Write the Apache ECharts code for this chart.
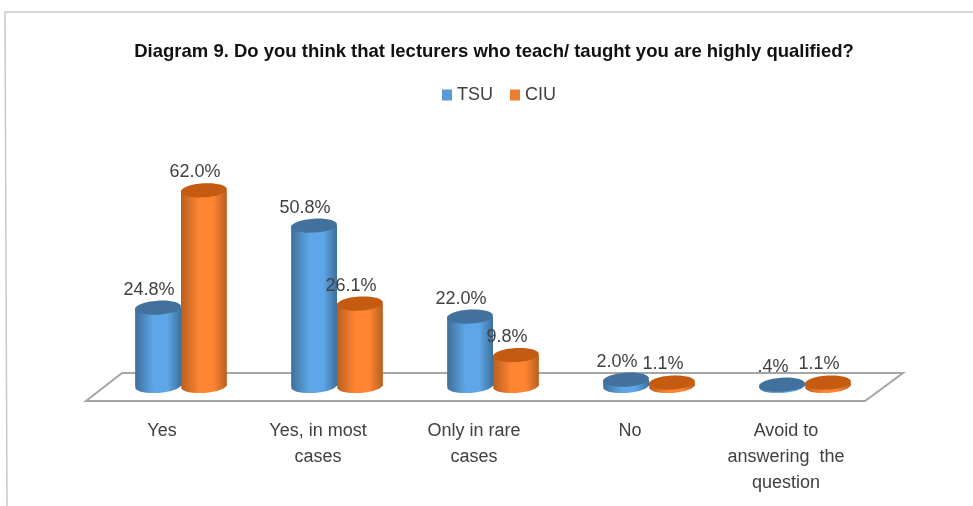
<!DOCTYPE html>
<html>
<head>
<meta charset="utf-8">
<script src="https://cdn.jsdelivr.net/npm/echarts@6/dist/echarts.min.js"></script>
<style>
html,body{margin:0;padding:0;background:#fff;}
#main{width:973px;height:506px;}
</style>
</head>
<body>
<div id="main"></div>
<script>
const titleText='Diagram 9. Do you think that lecturers who teach/ taught you are highly qualified?';
const categories=['Yes','Yes, in most\ncases','Only in rare\ncases','No','Avoid to\nanswering  the\nquestion'];
const tsu=[24.8,50.8,22.0,2.0,0.4];
const ciu=[62.0,26.1,9.8,1.1,1.1];

const chart=echarts.init(document.getElementById('main'));

// 圆柱横向渐变
function bodyFill(edge,mid){
  return new echarts.graphic.LinearGradient(0,0,1,0,[
    {offset:0,color:edge},
    {offset:0.4,color:mid},
    {offset:0.7,color:mid},
    {offset:1,color:edge}
  ]);
}

function cylinder(side,edge,mid,topColor){
  return function(params,api){
    const cat=api.value(0);
    const val=api.value(1);
    const top=api.coord([cat,val]);
    const base=api.coord([cat,0]);
    const rx=api.size([1,0])[0]*0.147;
    const ry=7;
    const cx=top[0]+side*rx;
    const fill=bodyFill(edge,mid);
    const tilt=0.06;
    return {
      type:'group',
      children:[
        {type:'ellipse',x:cx,y:base[1],rotation:tilt,shape:{cx:0,cy:0,rx:rx,ry:ry},style:{fill:fill}},
        {type:'rect',shape:{x:cx-rx,y:top[1],width:rx*2,height:base[1]-top[1]},style:{fill:fill}},
        {type:'ellipse',x:cx,y:top[1],rotation:tilt,shape:{cx:0,cy:0,rx:rx,ry:ry},style:{fill:topColor}},
        {type:'text',x:cx-9,y:top[1]-18,style:{
          text:val.toFixed(1).replace(/^0/,'')+'%',
          align:'center',verticalAlign:'middle',
          fontFamily:'"Liberation Sans"',fontSize:18,fill:'#404040'
        }}
      ]
    };
  };
}

chart.setOption({
  backgroundColor:'#fff',
  animation:false,
  title:{
    text:titleText,left:489,top:37,textAlign:'center',
    textStyle:{fontFamily:'"Liberation Sans"',fontSize:18.5,fontWeight:'bold',color:'#111'}
  },
  legend:{
    left:437,top:81,itemWidth:10,itemHeight:11,itemGap:17,icon:'rect',
    textStyle:{fontFamily:'"Liberation Sans"',fontSize:18,color:'#404040'},
    data:['TSU','CIU']
  },
  graphic:[
    {type:'polyline',z:0,shape:{points:[[973,12],[5,12],[7,506]]},style:{fill:null,stroke:'#c8c8c8',lineWidth:1.5}},
    {type:'polygon',z:0,shape:{points:[[86,401],[122,373],[903,373],[865,401]]},style:{fill:'#fff',stroke:'#a6a6a6',lineWidth:2}}
  ],
  grid:{left:103,right:90,top:165,bottom:120},
  xAxis:{
    type:'category',data:categories,
    axisLine:{show:false},axisTick:{show:false},
    axisLabel:{
      interval:0,margin:32,padding:[0,38,0,0],lineHeight:26,
      fontFamily:'"Liberation Sans"',fontSize:18,color:'#404040'
    }
  },
  yAxis:{type:'value',min:0,max:70,show:false,splitLine:{show:false}},
  series:[
    {name:'TSU',type:'custom',itemStyle:{color:'#5b9bd5'},encode:{x:0,y:1},z:3,
      data:tsu.map((v,i)=>[i,v]),
      renderItem:cylinder(-1,'#3d7099','#5ea6e8','#41719c')},
    {name:'CIU',type:'custom',itemStyle:{color:'#ed7d31'},encode:{x:0,y:1},z:4,
      data:ciu.map((v,i)=>[i,v]),
      renderItem:cylinder(1,'#b85f1f','#ff8533','#c55a11')}
  ]
});
</script>
</body>
</html>
